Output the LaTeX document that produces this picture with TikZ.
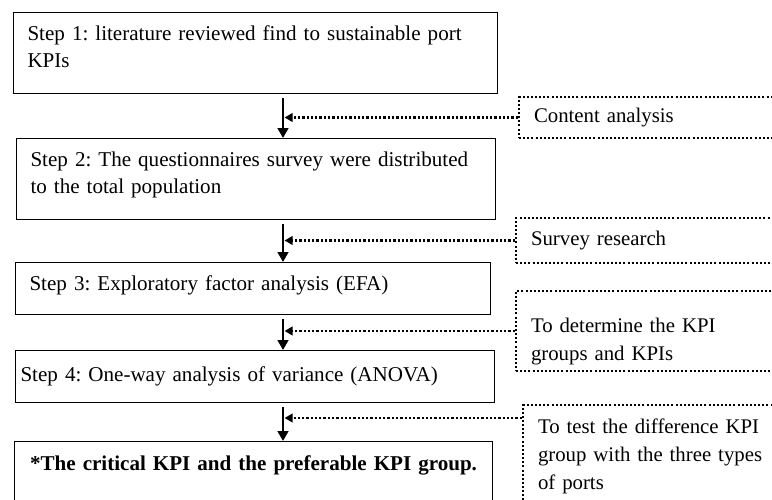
\documentclass[tikz,border=0pt]{standalone}
\usepackage{fontspec}
\setmainfont{Liberation Serif}
\usetikzlibrary{arrows.meta}
\tikzset{
  stepbox/.style={draw, line width=0.8pt, anchor=north west, align=left,
    inner xsep=10.5pt, inner ysep=0pt, font=\fontsize{15.8}{20.25}\selectfont},
  notebox/.style={draw, line width=1.5pt, dash pattern=on 1.5pt off 1.6pt,
    anchor=north west, align=left, inner xsep=11.25pt, inner ysep=0pt,
    text width=189pt, font=\fontsize{15.6}{21}\selectfont},
  flow/.style={line width=1.8pt, shorten <=3pt,
    -{Triangle[length=7.5pt,width=8pt]}},
  hint/.style={line width=1.9pt, dash pattern=on 1.7pt off 1.5pt,
    shorten >=1.2pt, -{Triangle[length=6pt,width=6.5pt]}}
}

\begin{document}
\frenchspacing
\begin{tikzpicture}[x=0.75pt, y=-0.75pt]
    \useasboundingbox (0,0) rectangle (772,500);
    \clip (0,0) rectangle (772,500);

    % steps
    \node[stepbox, text width=342pt, minimum height=60.75pt, text depth=30pt]
      (s1) at (13,12) {Step 1: literature reviewed find to sustainable port\\KPIs};
    \node[stepbox, text width=338.25pt, minimum height=60.75pt, text depth=30pt]
      (s2) at (16,138) {Step 2: The questionnaires survey were distributed\\to the total population};
    \node[stepbox, text width=335.25pt, minimum height=39pt, text depth=8.3pt]
      (s3) at (15,262) {Step 3: Exploratory factor analysis (EFA)};
    \node[stepbox, inner xsep=3.75pt, text width=351.75pt, minimum height=39pt]
      (s4) at (15,350) {Step 4: One-way analysis of variance (ANOVA)};
    \node[stepbox, inner xsep=3.75pt, text width=351pt, minimum height=44.25pt,
      text depth=12.5pt, align=center]
      (s5) at (14,441) {\textbf{*The critical KPI and the preferable KPI group.}};

    % methods
    \node[notebox, minimum height=30.75pt] (nA) at (518,96) {Content analysis};
    \node[notebox, minimum height=33.75pt] (nB) at (515,217) {Survey research};
    \node[notebox, minimum height=60pt, text depth=8.9pt] (nC) at (515,290) {To determine the KPI\\groups and KPIs};
    \node[notebox, inner ysep=10.5pt] (nD) at (522,404) {To test the difference KPI\\group with the three types\\of ports};

    \coordinate (ax) at (283,0);

    \draw[flow] (s1.south -| ax) -- (s2.north -| ax);
    \draw[flow] (s2.south -| ax) -- (s3.north -| ax);
    \draw[flow] (s3.south -| ax) -- (s4.north -| ax);
    \draw[flow] (s4.south -| ax) -- (s5.north -| ax);

    \draw[hint] (nA.west) -- (nA.west -| ax);
    \draw[hint] (nB.west) -- (nB.west -| ax);
    \draw[hint] (nC.west) -- (nC.west -| ax);
    \draw[hint] ([yshift=-10.5pt]nD.north west) -- ([yshift=-10.5pt]nD.north west -| ax);
\end{tikzpicture}
\end{document}
